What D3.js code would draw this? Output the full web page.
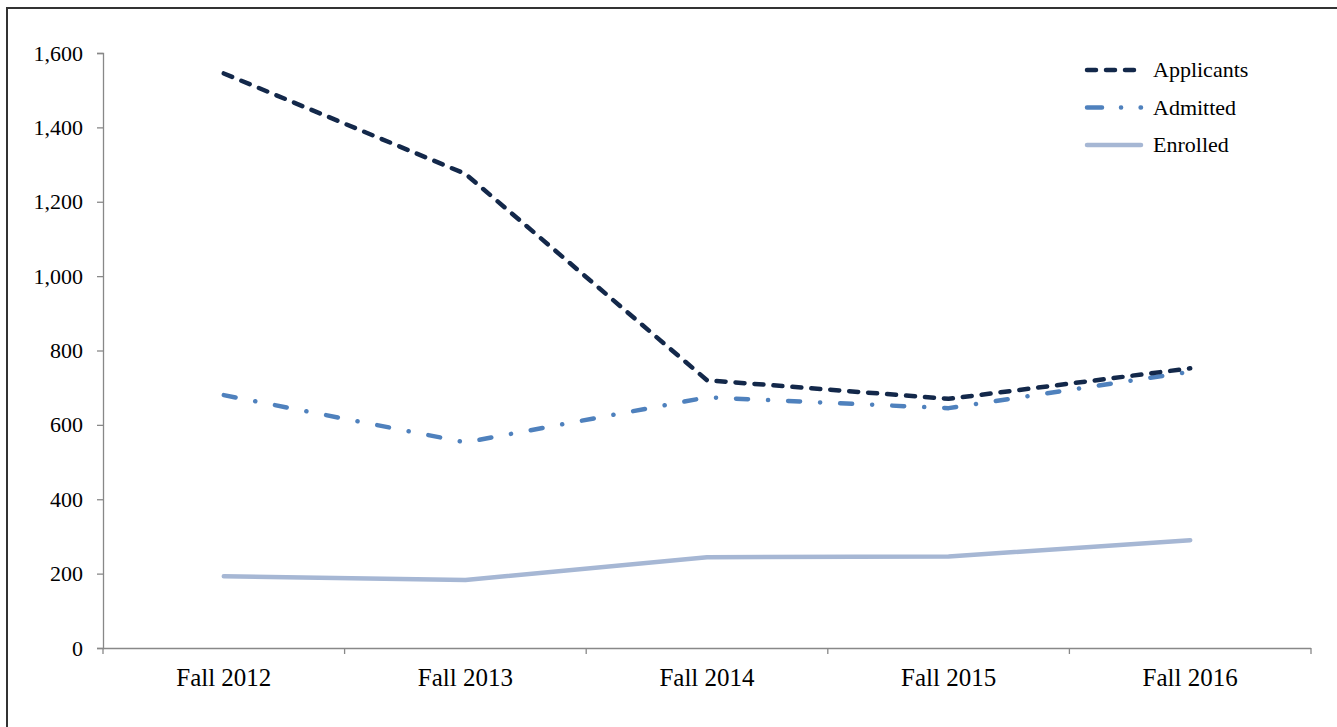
<!DOCTYPE html>
<html>
<head>
<meta charset="utf-8">
<script src="https://cdn.jsdelivr.net/npm/d3@7"></script>
<style>
  body { margin: 0; background: #fff; }
  svg { display: block; }
  text { font-family: "Liberation Serif", "Times New Roman", serif; fill: #000; }
</style>
</head>
<body>
<script>
// values
var years = ["Fall 2012", "Fall 2013", "Fall 2014", "Fall 2015", "Fall 2016"];
var applicants = [1545, 1275, 720, 670, 752];
var admitted = [680, 553, 674, 645, 743];
var enrolled = [193, 183, 244, 246, 290];
var yTicks = [0, 200, 400, 600, 800, 1000, 1200, 1400, 1600];

var width = 1337,
    height = 727;

var svg = d3.select("body")
    .append("svg")
    .attr("width", width)
    .attr("height", height);

// frame round the chart (right and bottom edges fall outside the picture)
svg.append("rect")
    .attr("x", 7)
    .attr("y", 8)
    .attr("width", 1400)
    .attr("height", 800)
    .attr("fill", "none")
    .attr("stroke", "#333")
    .attr("stroke-width", 2);

var x = d3.scaleBand()
    .domain(years)
    .range([103, 1311])
    .padding(0);

var y = d3.scaleLinear()
    .domain([0, 1600])
    .range([648, 53]);

// y axis
var yAxis = svg.append("g")
    .attr("transform", "translate(103,0)")
    .call(d3.axisLeft(y).tickValues(yTicks).tickSize(6).tickPadding(14).tickFormat(d3.format(",")));

// x axis, ticks between the categories
var xAxis = svg.append("g")
    .attr("transform", "translate(0,648)")
    .call(d3.axisBottom(x).tickSize(0).tickPadding(20));

var bounds = d3.range(years.length + 1).map(function(i) { return 103 + i * x.bandwidth(); });
xAxis.selectAll(".sep")
    .data(bounds)
    .enter()
    .append("line")
    .attr("class", "sep")
    .attr("x1", function(d) { return d; })
    .attr("x2", function(d) { return d; })
    .attr("y1", 0)
    .attr("y2", 6);

[yAxis, xAxis].forEach(function(a) {
    a.select(".domain").attr("stroke", "#888").attr("stroke-width", 1.3);
    a.selectAll("line").attr("stroke", "#888").attr("stroke-width", 1.3);
    a.selectAll("text").attr("fill", "#000")
        .style("font-family", "'Liberation Serif', 'Times New Roman', serif");
});
yAxis.selectAll("text").attr("font-size", 22);
xAxis.selectAll("text").attr("font-size", 25);
yAxis.select(".domain").attr("d", "M-6,648.5H0.5V53.5H-6");
xAxis.select(".domain").attr("d", "M103,0.5H1311");

var series = [
    { name: "Applicants", values: applicants, color: "#13284a", dash: "9,10", legendDash: "9,10", width: 4.5 },
    { name: "Admitted", values: admitted, color: "#4f81bd", dash: "12,20,0.1,20", legendDash: "15,19,0.1,19.5", width: 4.5 },
    { name: "Enrolled", values: enrolled, color: "#a6b7d4", dash: null, legendDash: null, width: 4.5 }
];

var line = d3.line()
    .x(function(d, i) { return x(years[i]) + x.bandwidth() / 2; })
    .y(function(d) { return y(d); });

// draw back to front so the dark line sits on top
series.slice().reverse().forEach(function(s) {
    svg.append("path")
        .datum(s.values)
        .attr("fill", "none")
        .attr("stroke", s.color)
        .attr("stroke-width", s.width)
        .attr("stroke-linecap", "round")
        .attr("stroke-linejoin", "round")
        .attr("stroke-dasharray", s.dash)
        .attr("d", line);
});

// legend
var legend = svg.append("g")
    .attr("transform", "translate(1087,70)");

var rows = legend.selectAll("g")
    .data(series)
    .enter()
    .append("g")
    .attr("transform", function(d, i) { return "translate(0," + (i * 37.5) + ")"; });

rows.append("line")
    .attr("x1", 0)
    .attr("x2", 54)
    .attr("y1", 0)
    .attr("y2", 0)
    .attr("stroke", function(d) { return d.color; })
    .attr("stroke-width", function(d) { return d.width; })
    .attr("stroke-linecap", "round")
    .attr("stroke-dasharray", function(d) { return d.legendDash; });

rows.append("text")
    .attr("x", 66)
    .attr("y", 0)
    .attr("dy", "0.33em")
    .attr("font-size", 22)
    .text(function(d) { return d.name; });
</script>
</body>
</html>
